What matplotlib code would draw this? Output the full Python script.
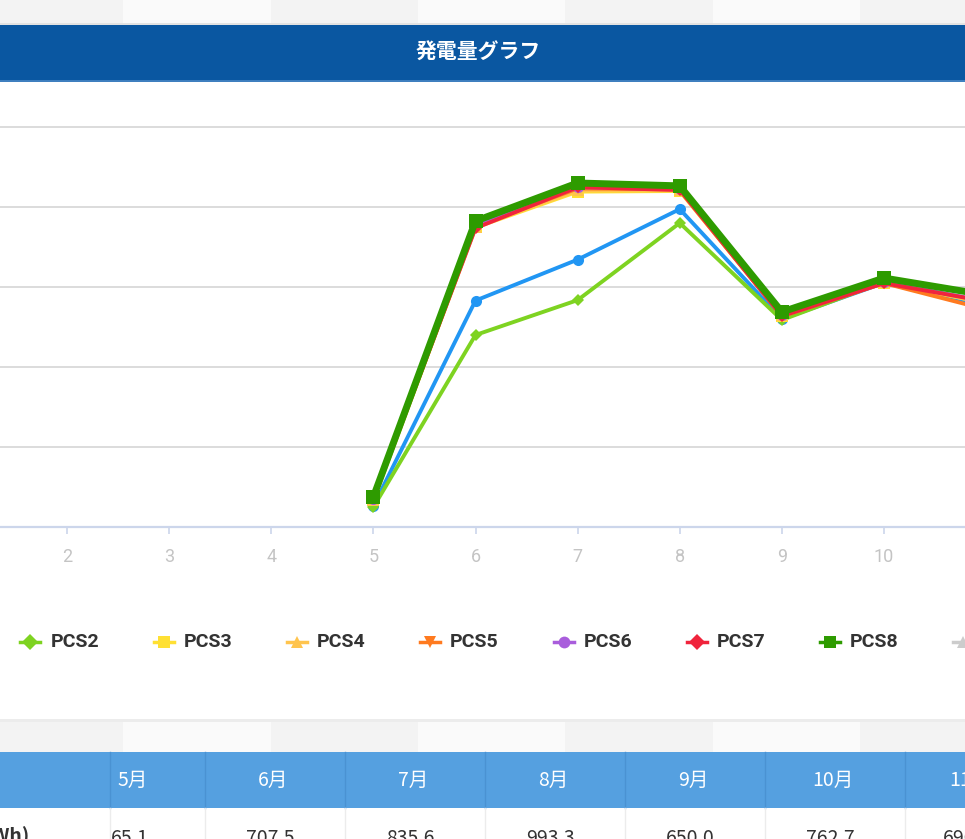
import numpy as np
import matplotlib.pyplot as plt
from matplotlib.patches import Rectangle
from matplotlib.lines import Line2D

plt.rcParams['font.family'] = ['Roboto', 'Noto Sans CJK JP', 'DejaVu Sans']

W, H = 965, 839

# data (kWh per month)
months = [5, 6, 7, 8, 9, 10, 11]
pcs1 = [65.1, 707.5, 835.6, 993.3, 650.0, 762.7, 690]
pcs2 = [62, 600, 709, 950, 647, 766, 700]
pcs3 = [84, 936, 1048, 1050, 660, 764, 700]
pcs4 = [85, 938, 1052, 1052, 661, 765, 700]
pcs5 = [88, 940, 1058, 1055, 659, 762, 680]
pcs6 = [88, 944, 1062, 1056, 662, 766, 705]
pcs7 = [90, 934, 1062, 1053, 659, 762, 705]
pcs8 = [94, 956, 1075, 1066, 672, 778, 725]

series_names = ['PCS1', 'PCS2', 'PCS3', 'PCS4', 'PCS5', 'PCS6', 'PCS7', 'PCS8', 'PCS9']
series_vals = [pcs1, pcs2, pcs3, pcs4, pcs5, pcs6, pcs7, pcs8, None]
colors = ['#2196f3', '#7ed321', '#ffe033', '#ffc44d', '#ff7a1f', '#a95ddc', '#f0243c', '#2e9b00', '#cccccc']
markers = ['o', 'D', 's', '^', 'v', 'o', 'D', 's', '^']

xticks = [2, 3, 4, 5, 6, 7, 8, 9, 10]
yticks = [0, 250, 500, 750, 1000, 1250]

table_months = ['5月', '6月', '7月', '8月', '9月', '10月', '11月']
table_vals = ['65.1', '707.5', '835.6', '993.3', '650.0', '762.7', '690.4']


def fx(px):
    return px / W


def fy(py):
    return 1 - py / H


fig = plt.figure(figsize=(W / 100, H / 100), dpi=100)
fig.patch.set_facecolor('white')

def rect(x0, y0, x1, y1, color, z=0):
    fig.patches.append(Rectangle((fx(x0), fy(y1)), fx(x1) - fx(x0), fy(y0) - fy(y1),
                                 transform=fig.transFigure, facecolor=color,
                                 edgecolor='none', zorder=z))

# page background strips (tiled gray)
tile_edges = [0, 123, 271, 418, 565, 713, 860, 965]
for strip in [(0, 24), (721, 752)]:
    for i in range(len(tile_edges) - 1):
        c = '#f3f3f3' if i % 2 == 0 else '#fafafa'
        rect(tile_edges[i], strip[0], tile_edges[i + 1], strip[1], c)
rect(0, 23, W, 25, '#e2e2e2')
rect(0, 719, W, 722, '#ececec')

# header bar
rect(0, 25, W, 81, '#0a57a1')
rect(0, 80, W, 82, '#3f7fbf')
fig.text(fx(478), fy(52), '発電量グラフ', color='white', fontsize=15, fontweight='bold',
         ha='center', va='center', family=['Noto Sans CJK JP', 'DejaVu Sans'])

# chart
px_per_month = (884 - 67) / 8
x_left = 2 - 67 / px_per_month
x_right = 2 + (W - 67) / px_per_month
px_per_unit = (527 - 207) / 1000
ax_top = 95
ax = fig.add_axes([0, fy(527), 1, fy(ax_top) - fy(527)])
ax.set_facecolor('none')
for s in ['top', 'left', 'right']:
    ax.spines[s].set_visible(False)
ax.spines['bottom'].set_color('#ccd6eb')
ax.spines['bottom'].set_linewidth(1.6)
ax.set_yticks(yticks)
ax.yaxis.grid(True, color='#d9d9d9', linewidth=1.3)
ax.tick_params(axis='y', left=False, labelleft=False)
ax.set_xticks(xticks)
ax.tick_params(axis='x', direction='out', length=5, width=1.2, color='#ccd6eb',
               labelcolor='#c4c4c4', labelsize=13, pad=10)
ax.set_axisbelow(True)

for i, (name, vals) in enumerate(zip(series_names, series_vals)):
    if vals is None:
        continue
    lw = 5.0 if name == 'PCS8' else 2.8
    ms = 10 if name == 'PCS8' else 8
    if markers[i] == 'D':
        ms -= 2
    ax.plot(months, vals, color=colors[i], linewidth=lw, marker=markers[i],
            markersize=ms, markeredgewidth=0, zorder=3 + i, clip_on=True)

ax.set_xlim(x_left, x_right)
ax.set_ylim(0, (527 - ax_top) / px_per_unit)

# legend, laid out like the page (first item sits off-screen to the left)
leg_y = 642
for i, name in enumerate(series_names):
    x0 = -103 + 133.3 * i
    if x0 < 0:
        continue
    fig.add_artist(Line2D([fx(x0 - 10), fx(x0 + 10)], [fy(leg_y), fy(leg_y)],
                          transform=fig.transFigure, color=colors[i], linewidth=2.5))
    ms = 8.5 if markers[i] in ('s', 'o') else 8
    fig.add_artist(Line2D([fx(x0)], [fy(leg_y)], transform=fig.transFigure,
                          color=colors[i], marker=markers[i], markersize=ms,
                          markeredgewidth=0, linestyle='none'))
    tc = '#cccccc' if name == 'PCS9' else '#333333'
    fig.text(fx(x0 + 20), fy(leg_y), name, color=tc, fontsize=14, fontweight='bold',
             ha='left', va='center')

# summary table below the chart
rect(0, 752, W, 808, '#55a0e0')
col_edges = [110, 205, 345, 485, 625, 765, 905]
for xe in col_edges:
    fig.add_artist(Line2D([fx(xe), fx(xe)], [fy(752), fy(808)], transform=fig.transFigure,
                          color='#4a92d2', linewidth=1.0))
    fig.add_artist(Line2D([fx(xe), fx(xe)], [fy(808), fy(839)], transform=fig.transFigure,
                          color='#ececec', linewidth=1.0))
col_centers = [133, 273, 413, 553, 693, 833, 970]
for cx, m, v in zip(col_centers, table_months, table_vals):
    fig.text(fx(cx), fy(780), m, color='white', fontsize=14, ha='center', va='center',
             family=['Noto Sans CJK JP', 'DejaVu Sans'])
    fig.text(fx(cx - 3), fy(838), v, color='#333333', fontsize=14, ha='center', va='center',
             family=['Noto Sans CJK JP', 'DejaVu Sans'])
fig.text(fx(30), fy(836), '発電量(kWh)', color='#333333', fontsize=14, fontweight='bold',
         ha='right', va='center', family=['Noto Sans CJK JP', 'DejaVu Sans'])

fig.savefig('out.png', dpi=100)
